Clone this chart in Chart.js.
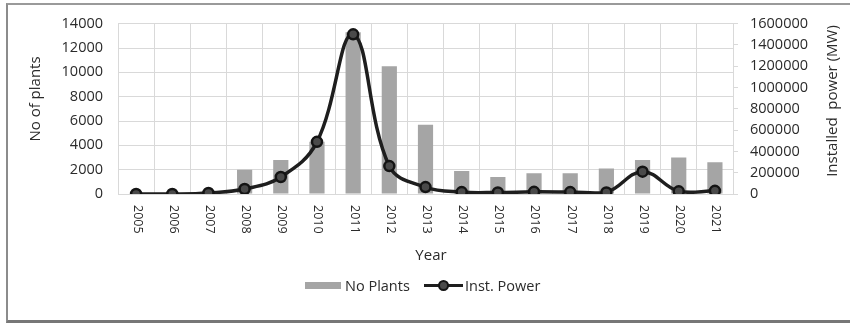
<!DOCTYPE html>
<html lang="en">
<head>
    <meta charset="UTF-8">
    <title>No of plants and installed power</title>
    <script src="https://cdn.jsdelivr.net/npm/chart.js"></script>
    <style>
        body { margin: 0; background: #fff; font-family: "Open Sans", sans-serif; }
        #wrap { position: relative; width: 850px; height: 324px; overflow: hidden; }
        #frame { position: absolute; left: 6px; top: 3px; width: 860px; height: 315px;
                 border-left: 2px solid #8c8c8c; border-top: 2px solid #9a9a9a; border-bottom: 3px solid #777; pointer-events: none; }
        .leg { position: absolute; top: 276px; height: 20px; line-height: 20px; font-size: 14.5px; color: #2b2b2b; }
        .swatch { position: absolute; }
    </style>
</head>
<body>
<div id="wrap">
    <canvas id="chart" width="850" height="324"></canvas>
    <div id="frame"></div>
    <div class="swatch" style="left:305px; top:282px; width:36px; height:7px; background:#a5a5a5;"></div>
    <div class="leg" style="left:345px;">No Plants</div>
    <div class="swatch" style="left:424px; top:284px; width:39px; height:3px; background:#1e1e1e;"></div>
    <div class="swatch" style="left:438px; top:280px; width:7px; height:7px; border-radius:50%; background:#4a4a4a; border:2px solid #141414;"></div>
    <div class="leg" style="left:465px;">Inst. Power</div>
</div>

<script>
    // data
    const years = ['2005', '2006', '2007', '2008', '2009', '2010', '2011', '2012', '2013',
                   '2014', '2015', '2016', '2017', '2018', '2019', '2020', '2021'];
    const noPlants = [0, 0, 50, 2000, 2800, 4300, 13300, 10500, 5700,
                      1900, 1400, 1700, 1700, 2100, 2800, 3000, 2600];
    const instPower = [0, 0, 10000, 47000, 160000, 490000, 1500000, 262000, 65000,
                       18000, 15000, 20000, 18000, 15000, 210000, 25000, 30000];
    const leftTicks = { min: 0, max: 14000, step: 2000 };
    const rightTicks = { min: 0, max: 1600000, step: 200000 };

    const textColor = '#2b2b2b';
    const gridColor = '#d9d9d9';

    // x labels read top-to-bottom and axis titles, drawn by hand
    const extras = {
        id: 'extras',
        afterDraw(chart) {
            const ctx = chart.ctx;
            const xs = chart.scales.x;
            ctx.save();
            ctx.fillStyle = textColor;
            ctx.font = '12.5px "Open Sans"';
            ctx.textAlign = 'left';
            ctx.textBaseline = 'middle';
            years.forEach((y, i) => {
                const px = xs.getPixelForTick(i);
                ctx.save();
                ctx.translate(px + 1, 205);
                ctx.rotate(Math.PI / 2);
                ctx.fillText(y, 0, 0);
                ctx.restore();
            });

            ctx.font = '15px "Open Sans"';
            ctx.textAlign = 'center';
            ctx.fillText('Year', 431, 256);

            ctx.save();
            ctx.translate(36, 99);
            ctx.rotate(-Math.PI / 2);
            ctx.fillText('No of plants', 0, 0);
            ctx.restore();

            ctx.save();
            ctx.translate(833, 101);
            ctx.rotate(-Math.PI / 2);
            ctx.fillText('Installed  power (MW)', 0, 0);
            ctx.restore();
            ctx.restore();
        }
    };

    new Chart(document.getElementById('chart'), {
        data: {
            labels: years,
            datasets: [
                {
                    type: 'line',
                    label: 'Inst. Power',
                    data: instPower,
                    yAxisID: 'y1',
                    order: 0,
                    borderColor: '#1e1e1e',
                    borderWidth: 3.5,
                    tension: 0.4,
                    pointRadius: 5,
                    pointBackgroundColor: '#4a4a4a',
                    pointBorderColor: '#141414',
                    pointBorderWidth: 2.5
                },
                {
                    type: 'bar',
                    label: 'No Plants',
                    data: noPlants,
                    yAxisID: 'y',
                    order: 1,
                    backgroundColor: '#a5a5a5',
                    categoryPercentage: 1,
                    barPercentage: 0.42
                }
            ]
        },
        options: {
            responsive: false,
            animation: false,
            layout: { padding: { top: 23, left: 0, right: 0, bottom: 0 } },
            plugins: {
                legend: { display: false },
                tooltip: { enabled: false }
            },
            scales: {
                x: {
                    type: 'category',
                    offset: true,
                    grid: { offset: true, color: gridColor, drawTicks: false },
                    border: { color: gridColor },
                    ticks: { display: false },
                    afterFit(s) { s.height = 130; }
                },
                y: {
                    position: 'left',
                    min: leftTicks.min,
                    max: leftTicks.max,
                    grid: { color: gridColor, drawTicks: false },
                    border: { color: gridColor },
                    ticks: {
                        stepSize: leftTicks.step,
                        padding: 15,
                        color: textColor,
                        font: { family: 'Open Sans', size: 14.5 },
                        callback: v => String(v)
                    },
                    afterFit(s) { s.width = 118; }
                },
                y1: {
                    position: 'right',
                    min: rightTicks.min,
                    max: rightTicks.max,
                    grid: { drawOnChartArea: false, color: gridColor, tickLength: 5 },
                    border: { color: gridColor },
                    ticks: {
                        stepSize: rightTicks.step,
                        padding: 12,
                        color: textColor,
                        font: { family: 'Open Sans', size: 14.5 },
                        callback: v => String(v)
                    },
                    afterFit(s) { s.width = 117; }
                }
            }
        },
        plugins: [extras]
    });
</script>
</body>
</html>
